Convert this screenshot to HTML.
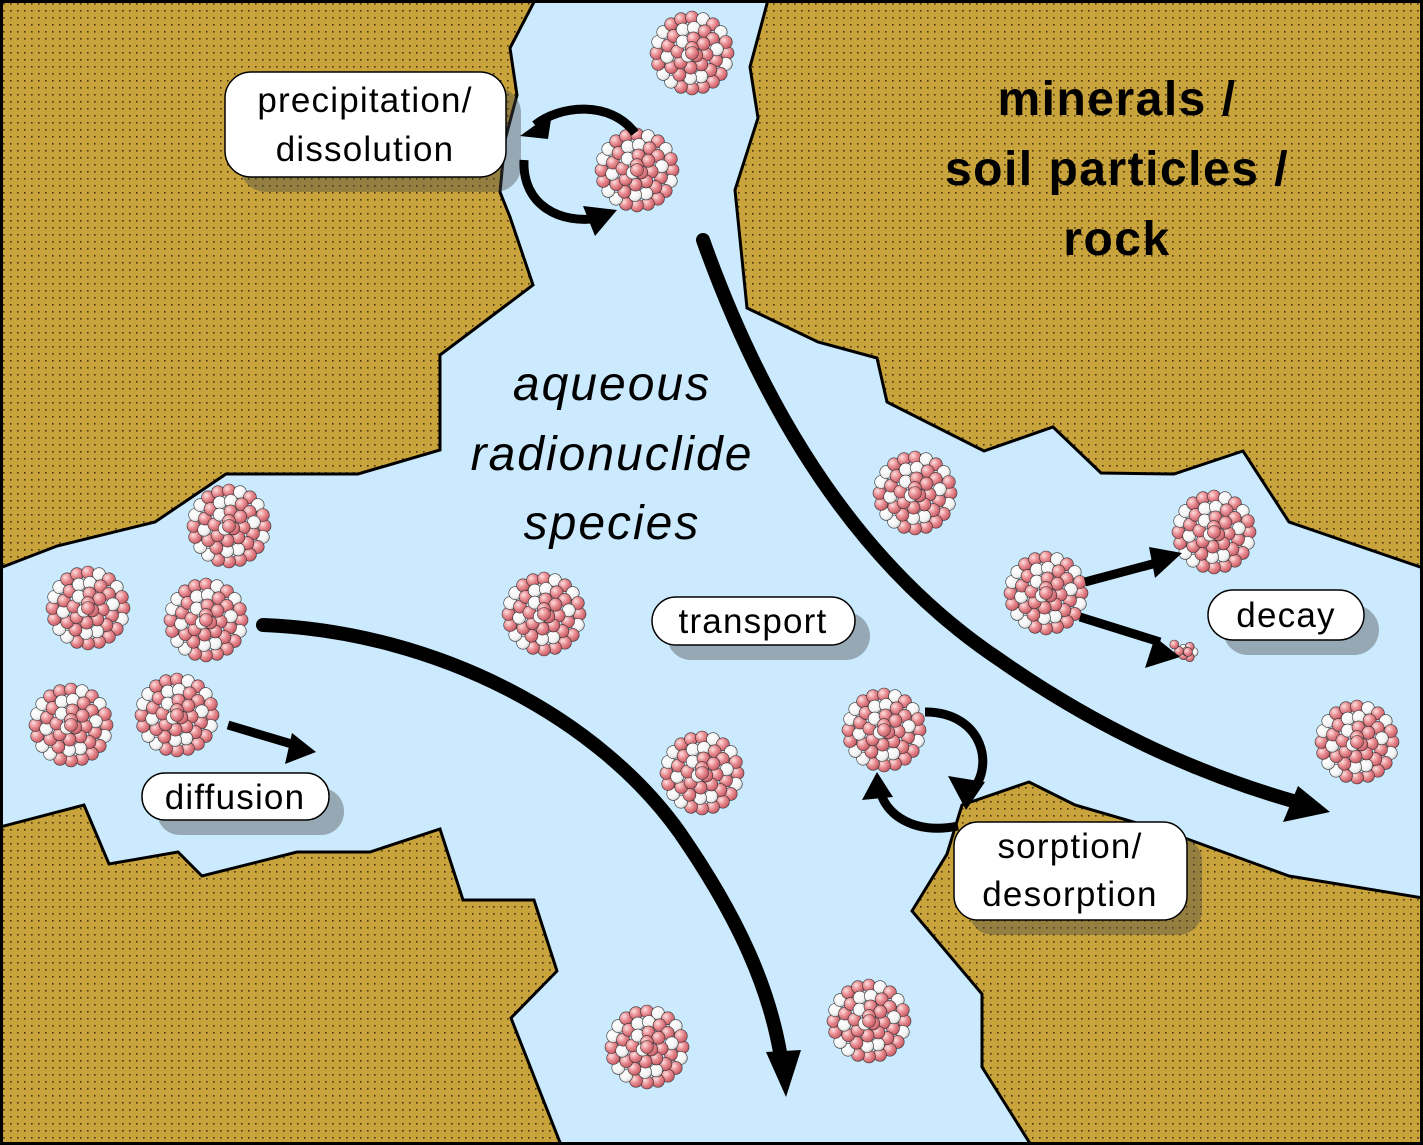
<!DOCTYPE html>
<html><head><meta charset="utf-8"><style>
html,body{margin:0;padding:0;background:#fff}
svg{display:block}
.lbl{font-family:"Liberation Sans",sans-serif;font-size:35px;fill:#000;letter-spacing:1.2px}
</style></head><body>
<svg id="s" width="1423" height="1145" viewBox="0 0 1423 1145" xmlns="http://www.w3.org/2000/svg">
<defs>
<pattern id="dots" width="7" height="7" patternUnits="userSpaceOnUse">
<rect width="7" height="7" fill="#c9a43c"/>
<rect x="3" y="3" width="1.6" height="1.6" fill="#4a3612"/>
</pattern>
<radialGradient id="gp" cx="0.35" cy="0.35" r="0.7"><stop offset="0" stop-color="#fde0e0"/><stop offset="0.5" stop-color="#e88b90"/><stop offset="1" stop-color="#c25560"/></radialGradient>
<radialGradient id="gw" cx="0.35" cy="0.35" r="0.7"><stop offset="0" stop-color="#ffffff"/><stop offset="0.7" stop-color="#f3f3f3"/><stop offset="1" stop-color="#c8c8c8"/></radialGradient>
<g id="nuc"></g>
<g id="nucs"></g>
</defs>
<rect width="1423" height="1145" fill="url(#dots)"/>
<path fill="#cbeafd" stroke="#000" stroke-width="3" stroke-linejoin="miter" d="
M535,0 L510,48 L517,95 L505,140 L500,192 L510,217 L533,285 L440,355 L440,450 L358,474 L226,474 L155,522 L57,546 L0,568
L0,827 L84,805 L109,864 L178,852 L202,876 L297,852 L370,852 L440,829 L463,900 L534,900 L557,971 L511,1018 L561,1145
L1031,1145 L982,1067 L982,994 L912,911 L947,854 L962,805 L1029,782 L1075,805 L1168,832 L1289,876 L1423,898
L1423,568 L1289,522 L1243,451 L1174,474 L1101,473 L1053,427 L984,451 L887,402 L877,358 L818,342 L747,308 L735,190 L758,118 L750,67 L768,0 Z"/>
<rect x="1.5" y="1.5" width="1420" height="1142" fill="none" stroke="#000" stroke-width="3"/>

<g id="nucl"></g>

<g fill="rgba(70,70,70,0.4)">
<rect x="240" y="87" width="281" height="105" rx="26"/>
<rect x="667" y="612" width="203" height="48" rx="24"/>
<rect x="157" y="788" width="187" height="47" rx="23"/>
<rect x="1223" y="605" width="156" height="50" rx="25"/>
<rect x="969" y="837" width="233" height="98" rx="24"/>
</g>

<g fill="none" stroke="#000" stroke-width="14" stroke-linecap="round">
<path d="M703,240 C760,400 850,560 1000,660 C1100,730 1200,775 1300,803"/>
<path d="M263,625 C440,632 600,720 680,833 C740,920 770,990 781,1058"/>
</g>
<polygon points="1330,812 1283,822 1298,786" fill="#000"/>
<polygon points="786,1097 766,1052 801,1050" fill="#000"/>

<g fill="none" stroke="#000" stroke-width="9">
<path d="M635,133 C610,100 560,105 535,125"/>
<path d="M524,160 C522,205 560,225 600,218"/>
<path d="M925,712 C985,712 995,770 970,792"/>
<path d="M958,826 C915,835 885,815 880,790"/>
<path d="M228,725 L295,745"/>
<path d="M1085,582 L1160,562"/>
<path d="M1080,617 L1160,642"/>
</g>
<polygon points="520,136 552,113 548,139" fill="#000"/>
<polygon points="617,210 595,236 583,206" fill="#000"/>
<polygon points="966,810 948,776 985,782" fill="#000"/>
<polygon points="877,772 862,800 893,797" fill="#000"/>
<polygon points="316,752 285,764 292,733" fill="#000"/>
<polygon points="1182,553 1155,578 1149,547" fill="#000"/>
<polygon points="1180,657 1145,668 1155,637" fill="#000"/>

<g fill="#fff" stroke="#000" stroke-width="1.5">
<rect x="225" y="72" width="281" height="105" rx="26"/>
<rect x="652" y="597" width="203" height="48" rx="24"/>
<rect x="142" y="773" width="187" height="47" rx="23"/>
<rect x="1208" y="590" width="156" height="50" rx="25"/>
<rect x="954" y="822" width="233" height="98" rx="24"/>
</g>
<g class="lbl" text-anchor="middle">
<text x="365" y="112">precipitation/</text>
<text x="365" y="161">dissolution</text>
<text x="753" y="633">transport</text>
<text x="235" y="809">diffusion</text>
<text x="1286" y="627">decay</text>
<text x="1070" y="858">sorption/</text>
<text x="1070" y="906">desorption</text>
</g>
<g font-family="'Liberation Sans',sans-serif" font-weight="bold" font-size="48" text-anchor="middle" letter-spacing="1.5">
<text x="1117" y="115">minerals /</text>
<text x="1117" y="185">soil particles /</text>
<text x="1117" y="255">rock</text>
</g>
<g font-family="'Liberation Sans',sans-serif" font-style="italic" font-size="48" text-anchor="middle" letter-spacing="2">
<text x="612" y="400">aqueous</text>
<text x="612" y="470">radionuclide</text>
<text x="612" y="539">species</text>
</g>
</svg>
<script>
(function(){
var ns="http://www.w3.org/2000/svg";
var seed=7;function rnd(){seed=(seed*9301+49297)%233280;return seed/233280;}
function build(g,R,br){
 var rings=[[R-br,0],[R-br*2.6,0.3],[R-br*4.2,0.1],[R-br*5.7,0.5],[0,0]];
 rings.forEach(function(r){
  var rad=r[0];var n=rad<1?1:Math.max(1,Math.round(2*Math.PI*rad/(br*1.7)));
  for(var i=0;i<n;i++){var a=2*Math.PI*i/n+r[1];
   var c=document.createElementNS(ns,"circle");
   c.setAttribute("cx",(rad*Math.cos(a)).toFixed(1));c.setAttribute("cy",(rad*Math.sin(a)).toFixed(1));
   c.setAttribute("r",br);c.setAttribute("fill",(rad<1||rnd()<0.55)?"url(#gp)":"url(#gw)");
   c.setAttribute("stroke","#333");c.setAttribute("stroke-width","0.6");g.appendChild(c);}
 });
}
build(document.getElementById("nuc"),42,6.5);
build(document.getElementById("nucs"),10,4.5);
var pts=[[692,53],[637,170],[229,526],[88,608],[206,620],[71,725],[177,715],[544,614],[702,773],[915,493],[1214,532],[1046,593],[884,730],[1357,742],[647,1047],[869,1021]];
var L=document.getElementById("nucl");
pts.forEach(function(p){var u=document.createElementNS(ns,"use");u.setAttribute("href","#nuc");u.setAttribute("transform","translate("+p[0]+","+p[1]+")");L.appendChild(u);});
var u=document.createElementNS(ns,"use");u.setAttribute("href","#nucs");u.setAttribute("transform","translate(1188,652)");L.appendChild(u);
})();
</script>
</body></html>
